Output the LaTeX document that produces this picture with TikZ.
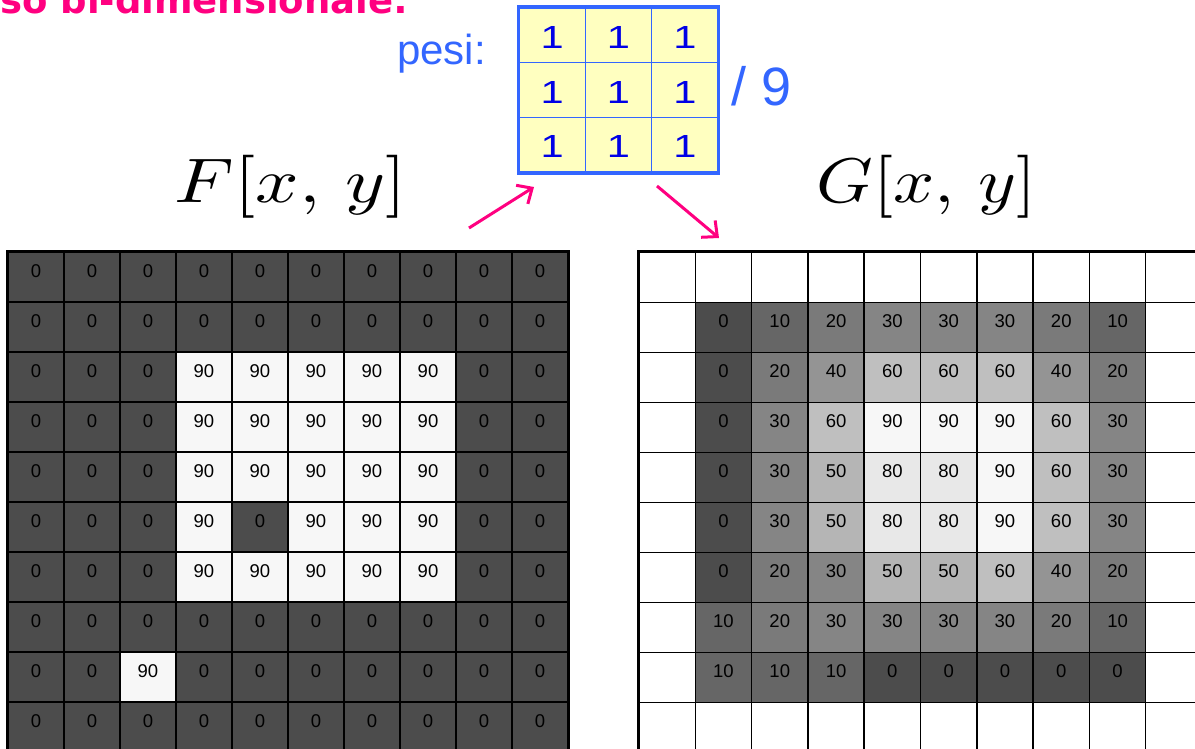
\documentclass[tikz,border=0pt]{standalone}
\usepackage[no-math]{fontspec}
\setmainfont{Liberation Sans}
\newfontfamily\titlefont{DejaVu Sans}
\usetikzlibrary{arrows.meta}
\definecolor{mag}{RGB}{255,0,128}
\definecolor{kblue}{RGB}{51,102,255}
\definecolor{kdig}{RGB}{0,0,230}
\definecolor{kfill}{RGB}{255,255,192}
\definecolor{g0}{gray}{0.30}
\definecolor{g10}{gray}{0.40}
\definecolor{g20}{gray}{0.48}
\definecolor{g30}{gray}{0.52}
\definecolor{g40}{gray}{0.58}
\definecolor{g50}{gray}{0.71}
\definecolor{g60}{gray}{0.75}
\definecolor{g80}{gray}{0.91}
\definecolor{g90}{gray}{0.97}
\definecolor{gw}{gray}{1}
\tikzset{
  cell/.style={rectangle, draw=black, line width=1.5pt, inner sep=0pt,
    minimum width=56pt, minimum height=50pt, text height=0pt, text depth=0pt,
    font=\fontsize{18.5}{20}\selectfont},
  gcell/.style={cell, minimum width=56.3pt},
  kcell/.style={rectangle, draw=kblue, line width=1.5pt, fill=kfill, inner sep=0pt,
    minimum width=66.3pt, minimum height=54.7pt, text height=26pt, text depth=0pt,
    text=kdig, font=\fontsize{32}{34}\selectfont},
  arr/.style={draw=mag, line width=3pt, -{Straight Barb[length=12pt,width=22pt,line width=3pt]}}
}
\begin{document}
\begin{tikzpicture}[x=1pt,y=-1pt]
\useasboundingbox (0,0) rectangle (1195,749);
\clip (0,0) rectangle (1195,749);
% title
\node[anchor=base west, inner sep=0pt, text=mag, font=\titlefont\bfseries\fontsize{37}{40}\selectfont] (title) at (0,14) {so bi-dimensionale:};
% F grid
\foreach \rowv [count=\r] in {
 {0,0,0,0,0,0,0,0,0,0},
 {0,0,0,0,0,0,0,0,0,0},
 {0,0,0,90,90,90,90,90,0,0},
 {0,0,0,90,90,90,90,90,0,0},
 {0,0,0,90,90,90,90,90,0,0},
 {0,0,0,90,0,90,90,90,0,0},
 {0,0,0,90,90,90,90,90,0,0},
 {0,0,0,0,0,0,0,0,0,0},
 {0,0,90,0,0,0,0,0,0,0},
 {0,0,0,0,0,0,0,0,0,0}} {
  \foreach \v [count=\c] in \rowv {
    \node[cell, fill=g\v] (F-\r-\c) at ({8+56*(\c-0.5)},{252+50*(\r-0.5)}) {\v};
  }
}
\draw[line width=3pt] (F-10-1.south west) -- (F-1-1.north west) -- (F-1-10.north east) -- (F-10-10.south east);
% G grid
\foreach \c in {1,...,10} {
  \node[gcell, fill=gw] (G-1-\c) at ({639+56.3*(\c-0.5)},{252.5+50*(1-0.5)}) {};
  \node[gcell, fill=gw] (G-10-\c) at ({639+56.3*(\c-0.5)},{252.5+50*(10-0.5)}) {};
}
\foreach \r in {2,...,9} {
  \node[gcell, fill=gw] (G-\r-1) at ({639+56.3*(1-0.5)},{252.5+50*(\r-0.5)}) {};
  \node[gcell, fill=gw] (G-\r-10) at ({639+56.3*(10-0.5)},{252.5+50*(\r-0.5)}) {};
}
\foreach \rowv [count=\rr] in {
 {0,10,20,30,30,30,20,10},
 {0,20,40,60,60,60,40,20},
 {0,30,60,90,90,90,60,30},
 {0,30,50,80,80,90,60,30},
 {0,30,50,80,80,90,60,30},
 {0,20,30,50,50,60,40,20},
 {10,20,30,30,30,30,20,10},
 {10,10,10,0,0,0,0,0}} {
  \foreach \v [count=\cc] in \rowv {
    \pgfmathtruncatemacro{\r}{\rr+1}
    \pgfmathtruncatemacro{\c}{\cc+1}
    \node[gcell, fill=g\v] (G-\r-\c) at ({639+56.3*(\c-0.5)},{252.5+50*(\r-0.5)}) {\v};
  }
}
\draw[line width=3pt] (G-10-1.south west) -- (G-1-1.north west) -- (G-1-10.north east);
% kernel
\foreach \r in {1,2,3} {
  \foreach \c in {1,2,3} {
    \node[kcell] (K-\r-\c) at ({519+66.33*(\c-0.5)},{8+54.67*(\r-0.5)}) {\scalebox{1.3}[1]{1}};
  }
}
\draw[kblue, line width=3.5pt] (K-1-1.north west) rectangle (K-3-3.south east);
\node[anchor=base west, inner sep=0pt, text=kblue, font=\fontsize{42}{46}\selectfont] (pesi) at (397,65) {pesi:};
\node[anchor=base west, inner sep=0pt, text=kblue, font=\fontsize{54}{58}\selectfont] (div) at (731,106) {/ 9};
% labels
\node[inner sep=0pt] (Flab) at (291,186.5) {\resizebox*{232pt}{63pt}{$F[x,\,y]$}};
\node[inner sep=0pt] (Glab) at (927,186.5) {\resizebox*{220pt}{63pt}{$G[x,\,y]$}};
% arrows
\coordinate (a1s) at (469,228);
\coordinate (a1e) at (534,187);
\coordinate (a2s) at (657,186);
\coordinate (a2e) at (719,238);
\draw[arr] (a1s) -- (a1e);
\draw[arr] (a2s) -- (a2e);
\end{tikzpicture}
\end{document}
